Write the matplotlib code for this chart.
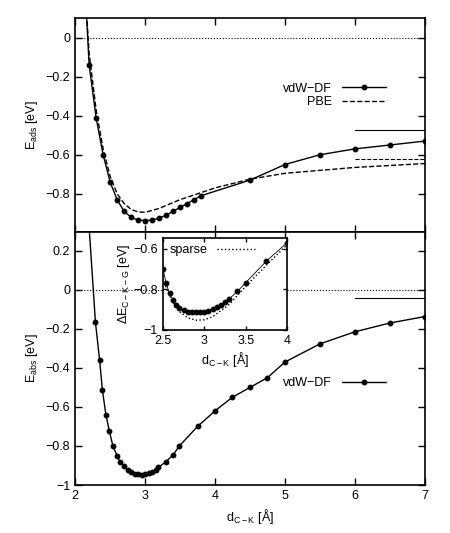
import matplotlib
matplotlib.use("Agg")
import matplotlib.pyplot as plt
import numpy as np

plt.rcParams['font.family'] = ['Liberation Sans', 'DejaVu Sans']
plt.rcParams['font.size'] = 9

# top panel
top_x = [2.15, 2.2, 2.3, 2.4, 2.5, 2.6, 2.7, 2.8, 2.9, 3.0, 3.1, 3.2, 3.3, 3.4, 3.5, 3.6, 3.7, 3.8, 4.5, 5.0, 5.5, 6.0, 6.5, 7.0]
top_vdw = [0.2, -0.14, -0.41, -0.6, -0.74, -0.83, -0.89, -0.92, -0.935, -0.937, -0.935, -0.925, -0.91, -0.89, -0.87, -0.85, -0.83, -0.81, -0.73, -0.65, -0.60, -0.57, -0.55, -0.53]
pbe_x = [2.15, 2.2, 2.3, 2.4, 2.5, 2.6, 2.7, 2.8, 2.9, 3.0, 3.2, 3.5, 4.0, 4.5, 5.0, 6.0, 7.0]
pbe_y = [0.2, -0.08, -0.37, -0.57, -0.71, -0.8, -0.85, -0.88, -0.893, -0.895, -0.875, -0.83, -0.77, -0.725, -0.695, -0.665, -0.645]

# bottom panel
bot_x = [2.2, 2.29, 2.35, 2.39, 2.44, 2.49, 2.54, 2.6, 2.64, 2.7, 2.75, 2.8, 2.85, 2.9, 2.95, 3.0, 3.05, 3.1, 3.15, 3.19, 3.3, 3.4, 3.49, 3.75, 4.0, 4.25, 4.5, 4.75, 5.0, 5.5, 6.0, 6.5, 7.0]
bot_vdw = [0.32, -0.166, -0.36, -0.515, -0.64, -0.725, -0.80, -0.85, -0.88, -0.905, -0.922, -0.935, -0.942, -0.946, -0.947, -0.945, -0.94, -0.932, -0.922, -0.91, -0.88, -0.846, -0.80, -0.70, -0.62, -0.55, -0.50, -0.45, -0.37, -0.277, -0.215, -0.17, -0.137]

# inset
ins_x = [2.5, 2.54, 2.58, 2.62, 2.66, 2.7, 2.75, 2.8, 2.85, 2.9, 2.95, 3.0, 3.05, 3.1, 3.15, 3.2, 3.25, 3.3, 3.4, 3.5, 3.75, 4.0]
ins_vdw = [-0.698, -0.77, -0.82, -0.85, -0.875, -0.89, -0.902, -0.91, -0.913, -0.914, -0.913, -0.91, -0.905, -0.898, -0.888, -0.875, -0.862, -0.847, -0.81, -0.767, -0.66, -0.57]
sparse_x = [2.5, 2.6, 2.7, 2.8, 2.9, 3.0, 3.1, 3.3, 3.5, 3.75, 4.0]
sparse_y = [-0.75, -0.85, -0.91, -0.94, -0.952, -0.95, -0.935, -0.875, -0.785, -0.68, -0.58]

fig = plt.figure(figsize=(4.5, 5.33), dpi=100)
ax1 = fig.add_axes([0.167, 0.565, 0.777, 0.401])
ax2 = fig.add_axes([0.167, 0.09, 0.777, 0.475])

def style(ax):
    ax.tick_params(direction='in', top=True, right=True, length=5, width=1)
    for s in ax.spines.values():
        s.set_linewidth(1.2)

MS = 3.2
ax1.plot([2, 7], [0, 0], ':', color='black', lw=0.8)
ax1.plot(top_x, top_vdw, '-o', color='black', ms=MS, lw=1, label='vdW−DF')
ax1.plot(pbe_x, pbe_y, '--', color='black', lw=1, label='PBE')
ax1.plot([6, 7], [-0.475, -0.475], '-', color='black', lw=0.8)
ax1.plot([6, 7], [-0.62, -0.62], '--', color='black', lw=0.8)
ax1.set_xlim(2, 7)
ax1.set_ylim(-0.995, 0.1)
ax1.set_yticks([0, -0.2, -0.4, -0.6, -0.8])
ax1.set_yticklabels(['0', '−0.2', '−0.4', '−0.6', '−0.8'])
ax1.set_xticks([2, 3, 4, 5, 6, 7])
ax1.set_xticklabels([])
ax1.set_ylabel('E$_{\\mathregular{ads}}$ [eV]')
ax1.legend(loc='upper right', bbox_to_anchor=(0.92, 0.75), frameon=False, markerfirst=False,
           handlelength=3.5, labelspacing=0.1, numpoints=1)
style(ax1)

ax2.plot([2, 7], [0, 0], ':', color='black', lw=0.8)
ax2.plot(bot_x, bot_vdw, '-o', color='black', ms=MS, lw=1, label='vdW−DF')
ax2.plot([6, 7], [-0.04, -0.04], '-', color='black', lw=0.8)
ax2.set_xlim(2, 7)
ax2.set_ylim(-1.0, 0.297)
ax2.set_yticks([0.2, 0, -0.2, -0.4, -0.6, -0.8, -1])
ax2.set_yticklabels(['0.2', '0', '−0.2', '−0.4', '−0.6', '−0.8', '−1'])
ax2.set_xticks([2, 3, 4, 5, 6, 7])
ax2.set_xlabel('d$_{\\mathregular{C−K}}$ [Å]')
ax2.set_ylabel('E$_{\\mathregular{abs}}$ [eV]')
ax2.legend(loc='upper right', bbox_to_anchor=(0.92, 0.47), frameon=False, markerfirst=False,
           handlelength=3.5, numpoints=1)
style(ax2)

ax3 = fig.add_axes([0.362, 0.381, 0.276, 0.173])
ax3.plot(ins_x, ins_vdw, '-o', color='black', ms=MS, lw=0.6)
ax3.plot(sparse_x, sparse_y, ':', color='black', lw=1, label='sparse')
ax3.set_xlim(2.5, 4)
ax3.set_ylim(-1, -0.545)
ax3.set_xticks([2.5, 3, 3.5, 4])
ax3.set_xticklabels(['2.5', '3', '3.5', '4'])
ax3.set_yticks([-0.6, -0.8, -1])
ax3.set_yticklabels(['−0.6', '−0.8', '−1'])
ax3.set_xlabel('d$_{\\mathregular{C−K}}$ [Å]', labelpad=2)
ax3.set_ylabel('ΔE$_{\\mathregular{C−K−G}}$ [eV]', labelpad=1)
ax3.legend(loc='upper left', frameon=False, markerfirst=False, handlelength=3,
           borderaxespad=0.1)
style(ax3)
ax3.tick_params(length=3)

fig.savefig('out.png', dpi=100)
